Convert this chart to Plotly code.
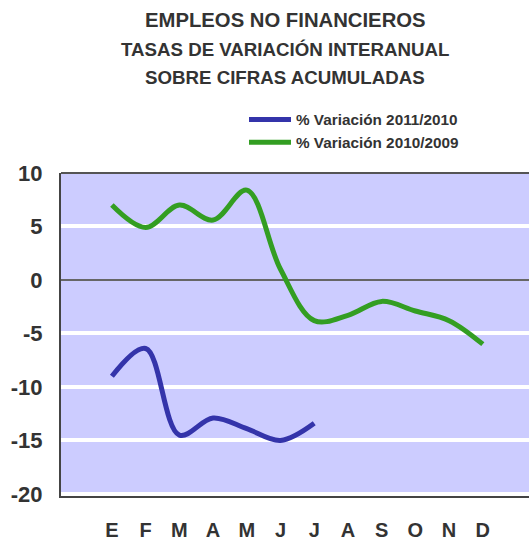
import plotly.graph_objects as go

months = ["E", "F", "M", "A", "M", "J", "J", "A", "S", "O", "N", "D"]
x_idx = list(range(len(months)))

name_2011 = "% Variación 2011/2010"
vals_2011 = [-9.0, -6.4, -14.5, -12.9, -13.9, -15.0, -13.4]

name_2010 = "% Variación 2010/2009"
vals_2010 = [7.0, 4.9, 7.0, 5.6, 8.4, 1.0, -3.8, -3.3, -2.0, -2.9, -3.8, -6.0]

y_ticks = [10, 5, 0, -5, -10, -15, -20]

title_lines = ["EMPLEOS NO FINANCIEROS", "TASAS DE VARIACIÓN INTERANUAL", "SOBRE CIFRAS ACUMULADAS"]

BLUE = "#3434AA"
GREEN = "#339E22"
TXT = "#333333"
W, H = 529, 540
FONT = "Liberation Sans, Arial, sans-serif"

fig = go.Figure()
fig.add_trace(go.Scatter(x=x_idx[:len(vals_2011)], y=vals_2011, name=name_2011, mode="lines",
                         line=dict(color=BLUE, width=5, shape="spline", smoothing=1.0)))
fig.add_trace(go.Scatter(x=x_idx[:len(vals_2010)], y=vals_2010, name=name_2010, mode="lines",
                         line=dict(color=GREEN, width=5, shape="spline", smoothing=1.0)))

fig.update_layout(
    width=W, height=H,
    margin=dict(l=0, r=0, t=0, b=0, autoexpand=False),
    paper_bgcolor="white", plot_bgcolor="#CCCCFF",
    showlegend=True,
    legend=dict(x=244 / W, y=1 - 103 / H, xanchor="left", yanchor="top",
                bgcolor="rgba(0,0,0,0)", tracegroupgap=0, itemwidth=42,
                font=dict(family=FONT, size=15.3, color=TXT, weight="bold")),
    xaxis=dict(domain=[61 / W, 1], range=[-1.51, 12.37], tickmode="array",
               tickvals=x_idx, ticktext=months,
               showgrid=False, zeroline=False, showline=True, linecolor="#444444", linewidth=2,
               ticks="", ticklabelstandoff=15,
               tickfont=dict(family=FONT, size=20, color=TXT, weight="bold")),
    yaxis=dict(domain=[44 / H, 1 - 173 / H], range=[-20.19, 10], tickmode="array",
               tickvals=y_ticks, ticktext=[str(v) for v in y_ticks],
               showgrid=True, gridcolor="white", gridwidth=4,
               zeroline=True, zerolinecolor="#666666", zerolinewidth=2,
               showline=True, linecolor="#444444", linewidth=2,
               ticks="", ticklabelstandoff=12,
               tickfont=dict(family=FONT, size=22, color=TXT, weight="bold")),
)

fig.add_shape(type="line", xref="x domain", yref="y domain", x0=0, x1=1, y0=1, y1=1,
              line=dict(color="#555555", width=2))

title_y = [20, 50, 78]
title_sizes = [20.3, 18.7, 18.7]
for txt, yy, sz in zip(title_lines, title_y, title_sizes):
    fig.add_annotation(text=txt, xref="paper", yref="paper",
                       x=285 / W, y=1 - yy / H, showarrow=False,
                       xanchor="center", yanchor="middle",
                       font=dict(family=FONT, size=sz, color=TXT, weight="bold"))

fig.write_html("out.html", config={"displayModeBar": False},
               post_script="document.body.style.margin='0';document.body.style.overflow='hidden';")
